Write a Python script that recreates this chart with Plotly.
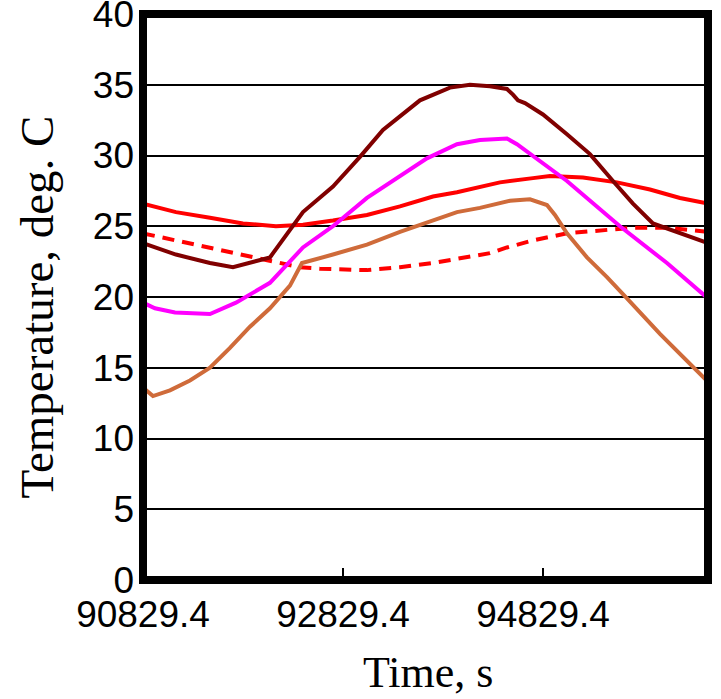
import plotly.graph_objects as go

# Time (s) and temperature (deg. C) series
t_maroon = [90829, 91159, 91499, 91729, 92099, 92299, 92429, 92729, 92999, 93229,
            93599, 93899, 94099, 94299, 94469, 94529, 94579, 94649, 94829, 95069,
            95299, 95529, 95729, 95929, 96199, 96479]
v_maroon = [23.8, 23.0, 22.4, 22.1, 22.8, 24.7, 26.0, 27.8, 29.9, 31.8,
            33.9, 34.8, 35.0, 34.9, 34.7, 34.3, 33.9, 33.7, 32.9, 31.5,
            30.1, 28.2, 26.6, 25.2, 24.5, 23.8]

t_magenta = [90829, 90949, 91149, 91499, 91759, 92099, 92429, 92729, 93069, 93399,
             93669, 93969, 94199, 94469, 94569, 95069, 95599, 96069, 96479]
v_magenta = [19.6, 19.2, 18.9, 18.8, 19.6, 21.0, 23.5, 25.0, 27.0, 28.5,
             29.8, 30.8, 31.1, 31.2, 30.8, 28.2, 25.0, 22.4, 19.9]

t_red = [90829, 91159, 91499, 91829, 92159, 92429, 92729, 93069, 93399, 93729,
         93969, 94399, 94729, 94899, 95229, 95569, 95899, 96199, 96479]
v_red = [26.6, 26.0, 25.6, 25.2, 25.0, 25.1, 25.4, 25.8, 26.4, 27.1,
         27.4, 28.1, 28.4, 28.55, 28.45, 28.1, 27.6, 27.0, 26.6]

t_dash = [90829, 91159, 91499, 91829, 92159, 92399, 92599, 93069, 93399, 93729,
          93969, 94299, 94469, 94729, 95069, 95399, 95729, 96069, 96479]
v_dash = [24.5, 24.0, 23.5, 23.0, 22.5, 22.1, 22.0, 21.9, 22.1, 22.4,
          22.7, 23.1, 23.5, 24.0, 24.5, 24.7, 24.9, 24.9, 24.6]

t_orange = [90829, 90929, 91099, 91299, 91499, 91699, 91899, 92099, 92299, 92419,
            92729, 93069, 93399, 93729, 93969, 94199, 94499, 94699, 94869, 94949,
            95069, 95269, 95469, 95669, 95999, 96479]
v_orange = [13.6, 13.0, 13.4, 14.1, 15.0, 16.4, 17.9, 19.2, 20.8, 22.4,
            23.0, 23.7, 24.6, 25.4, 26.0, 26.3, 26.8, 26.9, 26.5, 25.8,
            24.5, 22.8, 21.4, 19.9, 17.4, 14.0]

x_ticks = [90829.4, 92829.4, 94829.4]
x_tick_labels = ["90829.4", "92829.4", "94829.4"]
y_ticks = [0, 5, 10, 15, 20, 25, 30, 35, 40]

fig = go.Figure()
series = [
    (t_red, v_red, "#FF0000", "solid"),
    (t_dash, v_dash, "#FF0000", "12px,8px"),
    (t_orange, v_orange, "#CF6B3A", "solid"),
    (t_magenta, v_magenta, "#FF00FF", "solid"),
    (t_maroon, v_maroon, "#800000", "solid"),
]
for t, v, c, d in series:
    fig.add_trace(go.Scatter(x=t, y=v, mode="lines", showlegend=False,
                             line=dict(color=c, width=4, dash=d)))

fig.add_shape(type="rect", xref="paper", yref="paper", x0=0, x1=1, y0=0, y1=1,
              line=dict(color="black", width=8), layer="above")

serif = "Liberation Serif, Times New Roman"
fig.add_annotation(text="Temperature, deg. C", xref="paper", yref="paper",
                   x=-0.187, y=0.482, xanchor="center", yanchor="middle",
                   textangle=-90, showarrow=False,
                   font=dict(size=47, family=serif, color="black"))
fig.add_annotation(text="Time, s", xref="paper", yref="paper",
                   x=0.504, y=-0.164, xanchor="center", yanchor="middle",
                   showarrow=False, font=dict(size=44, family=serif, color="black"))

fig.update_layout(
    width=721, height=699,
    margin=dict(l=143, r=13, t=14, b=119, autoexpand=False),
    paper_bgcolor="white", plot_bgcolor="white",
    font=dict(family="Liberation Sans, Arial", color="black"),
    xaxis=dict(range=[90829.4, 96479.4], tickvals=x_ticks, ticktext=x_tick_labels,
               showgrid=False, zeroline=False, showline=False, automargin=False,
               ticks="inside", ticklen=12, tickwidth=2, tickcolor="black",
               ticklabelstandoff=9, ticklabeloverflow="allow",
               tickfont=dict(size=37, family="Liberation Sans, Arial")),
    yaxis=dict(range=[0, 40], tickvals=y_ticks, automargin=False,
               showgrid=True, gridcolor="black", gridwidth=1.5,
               zeroline=False, showline=False, ticks="",
               ticklabelstandoff=8, ticklabeloverflow="allow",
               tickfont=dict(size=37, family="Liberation Sans, Arial")),
)

# remove the page's default 8px body margin so the figure fills the window
fig.write_html("out.html", config={"displayModeBar": False},
               post_script="document.body.style.margin='0';")
